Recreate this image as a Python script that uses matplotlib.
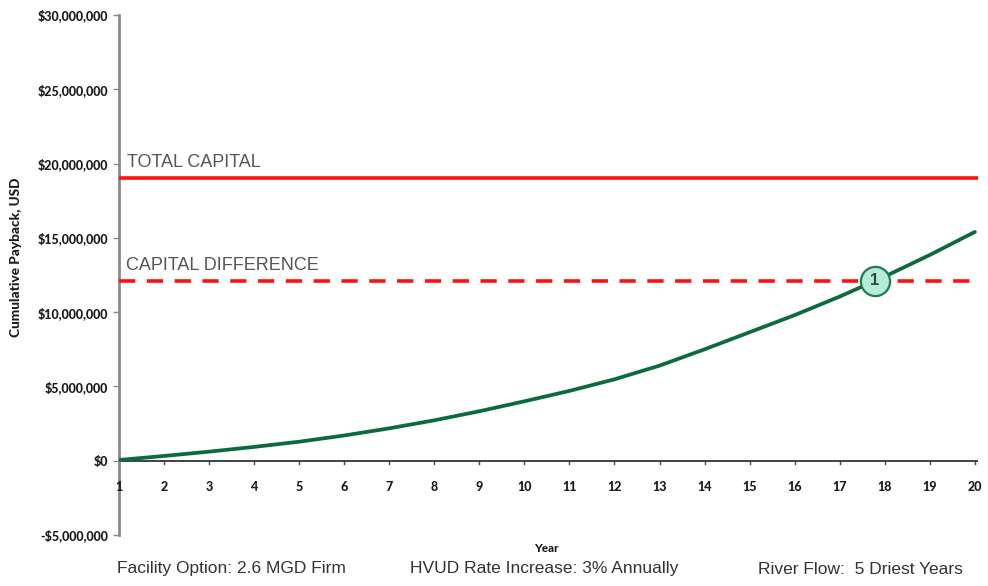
import numpy as np
import matplotlib
matplotlib.use("Agg")
import matplotlib.pyplot as plt
from matplotlib.ticker import FuncFormatter

# Cumulative payback by year (USD millions)
years = list(range(1, 21))
payback_musd = [0.05, 0.32, 0.61, 0.93, 1.28, 1.70, 2.18, 2.72, 3.33, 4.00,
                4.70, 5.48, 6.40, 7.50, 8.65, 9.80, 11.05, 12.40, 13.85, 15.40]
total_capital_musd = 19.0
capital_difference_musd = 12.1

y_ticks_musd = [-5, 0, 5, 10, 15, 20, 25, 30]
footer_texts = ["Facility Option: 2.6 MGD Firm",
                "HVUD Rate Increase: 3% Annually",
                "River Flow:  5 Driest Years"]

tick_font = ["Lato", "DejaVu Sans"]
text_font = ["Liberation Sans", "DejaVu Sans"]

fig = plt.figure(figsize=(9.88, 5.86), dpi=100)
ax = fig.add_axes([0.1204, 0.0870, 0.8695, 0.8874])

yrs = np.array(years, dtype=float)
vals = np.array(payback_musd) * 1e6

# payback curve
ax.plot(yrs, vals, color="#0b6b3e", lw=2.7, solid_capstyle="round", zorder=4)

# capital reference lines
ax.axhline(total_capital_musd * 1e6, color="#ff1010", lw=2.6, zorder=3)
ax.axhline(capital_difference_musd * 1e6, color="#ff1010", lw=2.6,
           dashes=(4.5, 3.2), zorder=3)

ax.text(1.17, total_capital_musd * 1e6 + 0.5e6, "TOTAL CAPITAL",
        family=text_font, fontsize=13, color="#555555", va="bottom", ha="left")
ax.text(1.15, capital_difference_musd * 1e6 + 0.5e6, "CAPITAL DIFFERENCE",
        family=text_font, fontsize=13, color="#555555", va="bottom", ha="left")

# breakeven marker where the curve crosses the capital difference
x_cross = np.interp(capital_difference_musd * 1e6, vals, yrs)
ax.plot([x_cross], [capital_difference_musd * 1e6], marker="o", ms=21,
        mfc="#b5ecd6", mec="#1f7a55", mew=1.6, zorder=6)
ax.text(x_cross, capital_difference_musd * 1e6, "1", ha="center", va="center",
        fontsize=12, fontweight="bold", color="#2a4a3a", family=text_font, zorder=7)

# axes
ax.set_xlim(1, 20.07)
ax.set_ylim(-5e6, 30e6)
for s in ["top", "right", "bottom"]:
    ax.spines[s].set_visible(False)
ax.spines["left"].set_color("#8a8a8a")
ax.spines["left"].set_linewidth(2.0)

# x axis drawn along zero
ax.axhline(0, color="#333333", lw=1.3, zorder=2)
for yr in years:
    ax.plot([yr, yr], [0, -0.22e6], color="#444444", lw=1.0, zorder=2)
ax.set_xticks(years)
ax.set_xticklabels([])
ax.tick_params(axis="x", length=0)
for yr in years:
    ax.text(yr, -1.75e6, str(yr), ha="center", va="center", fontsize=9,
            fontweight="black", family=tick_font, color="#1a1a1a")

ax.set_yticks([v * 1e6 for v in y_ticks_musd])
ax.yaxis.set_major_formatter(FuncFormatter(
    lambda v, p: ("-$" if v < 0 else "$") + f"{abs(v):,.0f}"))
ax.tick_params(axis="y", length=4, width=1, color="#8a8a8a", pad=4)
for lbl in ax.get_yticklabels():
    lbl.set_fontfamily(tick_font)
    lbl.set_fontweight("black")
    lbl.set_fontsize(9)
    lbl.set_color("#1a1a1a")

ax.set_ylabel("Cumulative Payback, USD", family=tick_font, fontweight="black",
              fontsize=9.8, color="#1a1a1a")
ax.yaxis.set_label_coords((22 - 119) / 859, (535 - 257) / 520)
fig.text(546 / 988, 1 - 548 / 586, "Year", ha="center", va="center",
         family=tick_font, fontweight="black", fontsize=8.5, color="#1a1a1a")

for x_px, t in zip([117, 410, 758], footer_texts):
    fig.text(x_px / 988, 1 - 569 / 586, t, ha="left", va="center",
             family=text_font, fontsize=12.5, color="#333333")

fig.savefig("out.png", dpi=100, facecolor="white")
